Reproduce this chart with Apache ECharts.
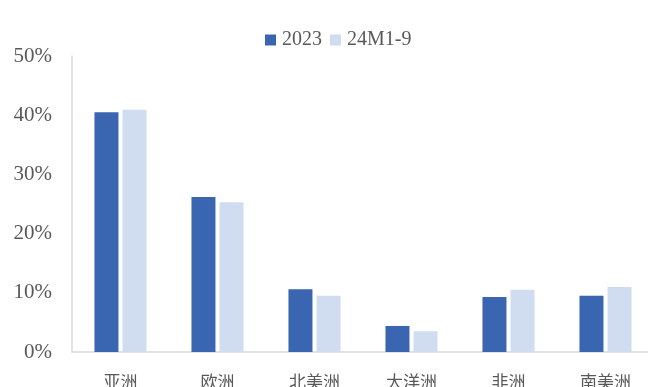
<!DOCTYPE html>
<html lang="zh">
<head>
    <meta charset="UTF-8"/>
    <script src="https://cdn.jsdelivr.net/npm/echarts@6/dist/echarts.min.js"></script>
    <title>Region share</title>
    <style>
        html, body { margin: 0; padding: 0; background: #fff; }
        #chart { width: 648px; height: 387px; }
    </style>
</head>
<body>
<div id="chart"></div>
<script type="text/javascript">
    var regions = ['亚洲', '欧洲', '北美洲', '大洋洲', '非洲', '南美洲'];
    var seriesNames = ['2023', '24M1-9'];
    var data2023 = [40.5, 26.2, 10.6, 4.4, 9.3, 9.5];
    var data2024 = [40.9, 25.3, 9.5, 3.5, 10.5, 11.0];

    var fontFam = "'Liberation Serif', 'Noto Sans CJK SC', serif";
    var myChart = echarts.init(document.getElementById('chart'));
    var option = {
        backgroundColor: '#fff',
        animation: false,
        legend: {
            top: 25,
            left: 260,
            itemWidth: 11,
            itemHeight: 11,
            itemGap: 8,
            icon: 'rect',
            textStyle: { color: '#595959', fontSize: 20, fontFamily: fontFam, padding: [0, 0, 0, 1] },
            data: seriesNames
        },
        grid: { left: 72, top: 56, width: 582, height: 296, outerBoundsMode: 'none', containLabel: false },
        xAxis: {
            type: 'category',
            data: regions,
            axisLine: { lineStyle: { color: '#d9d9d9', width: 1.5 } },
            axisTick: { show: false },
            axisLabel: { color: '#595959', fontSize: 17, fontFamily: "'Noto Sans CJK SC', sans-serif", margin: 21 }
        },
        yAxis: {
            type: 'value',
            min: 0,
            max: 50,
            interval: 10,
            axisLine: { show: true, lineStyle: { color: '#d9d9d9', width: 1.5 } },
            axisTick: { show: false },
            splitLine: { show: false },
            axisLabel: { color: '#595959', fontSize: 21, fontFamily: fontFam, margin: 20, formatter: '{value}%' }
        },
        series: [
            {
                name: seriesNames[0],
                type: 'bar',
                data: data2023,
                barWidth: 24,
                barGap: '17%',
                itemStyle: { color: '#3a65b0' }
            },
            {
                name: seriesNames[1],
                type: 'bar',
                data: data2024,
                barWidth: 24,
                itemStyle: { color: '#d0ddf1' }
            }
        ]
    };
    myChart.setOption(option);
</script>
</body>
</html>
